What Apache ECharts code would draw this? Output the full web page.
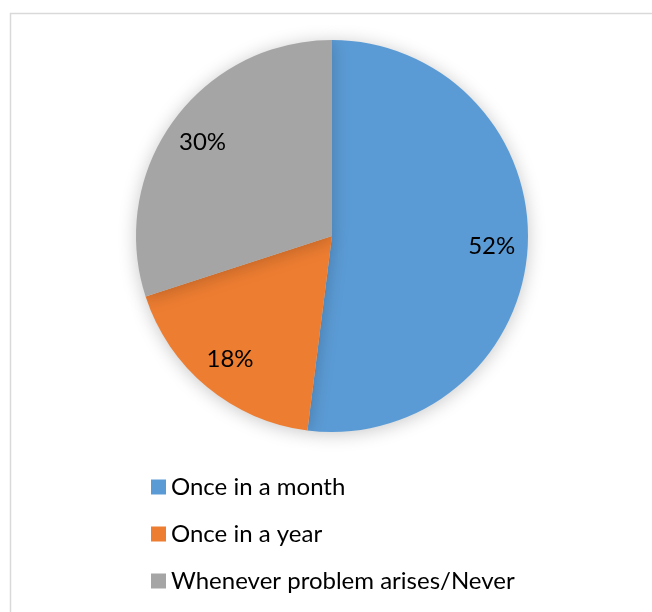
<!DOCTYPE html>
<html>
<head>
<meta charset="utf-8">
<script src="https://cdn.jsdelivr.net/npm/echarts@6/dist/echarts.min.js"></script>
<style>
html,body{margin:0;padding:0;background:#fff;}
#chart{width:652px;height:612px;}
</style>
</head>
<body>
<div id="chart"></div>
<script>
var categories = ['Once in a month', 'Once in a year', 'Whenever problem arises/Never'];
var values = [52, 18, 30];
var colors = ['#5B9BD5', '#ED7D31', '#A5A5A5'];

var FONT = 'Lato';
var pieData = categories.map(function (c, i) {
  return { name: c, value: values[i], itemStyle: { color: colors[i] } };
});
var labelData = categories.map(function (c, i) {
  return { name: c, value: values[i] };
});

var chart = echarts.init(document.getElementById('chart'), null, { renderer: 'canvas' });
chart.setOption({
  animation: false,
  backgroundColor: '#fff',
  graphic: [{
    type: 'rect',
    left: 8, top: 11,
    shape: { width: 700, height: 700 },
    style: { fill: 'none', stroke: '#d9d9d9', lineWidth: 1.5 },
    silent: true
  }],
  legend: {
    orient: 'vertical',
    left: 146,
    top: 467,
    itemWidth: 15,
    itemHeight: 15,
    itemGap: 17,
    icon: 'rect',
    data: categories,
    textStyle: { fontFamily: FONT, fontSize: 24, color: '#000', lineHeight: 30 }
  },
  series: [{
    type: 'pie',
    center: [332, 236],
    radius: [0, 196],
    startAngle: 90,
    clockwise: true,
    silent: true,
    label: { show: false },
    labelLine: { show: false },
    itemStyle: { borderWidth: 0, shadowBlur: 18, shadowColor: 'rgba(0,0,0,0.22)', shadowOffsetY: 2 },
    data: pieData
  }, {
    type: 'pie',
    center: [332, 236],
    radius: [118, 196],
    startAngle: 90,
    clockwise: true,
    silent: true,
    itemStyle: { color: 'rgba(0,0,0,0)', borderWidth: 0 },
    label: {
      show: true,
      position: 'inside',
      formatter: '{d}%',
      fontFamily: FONT,
      fontSize: 24,
      color: '#000'
    },
    labelLine: { show: false },
    data: labelData
  }]
});
</script>
</body>
</html>
